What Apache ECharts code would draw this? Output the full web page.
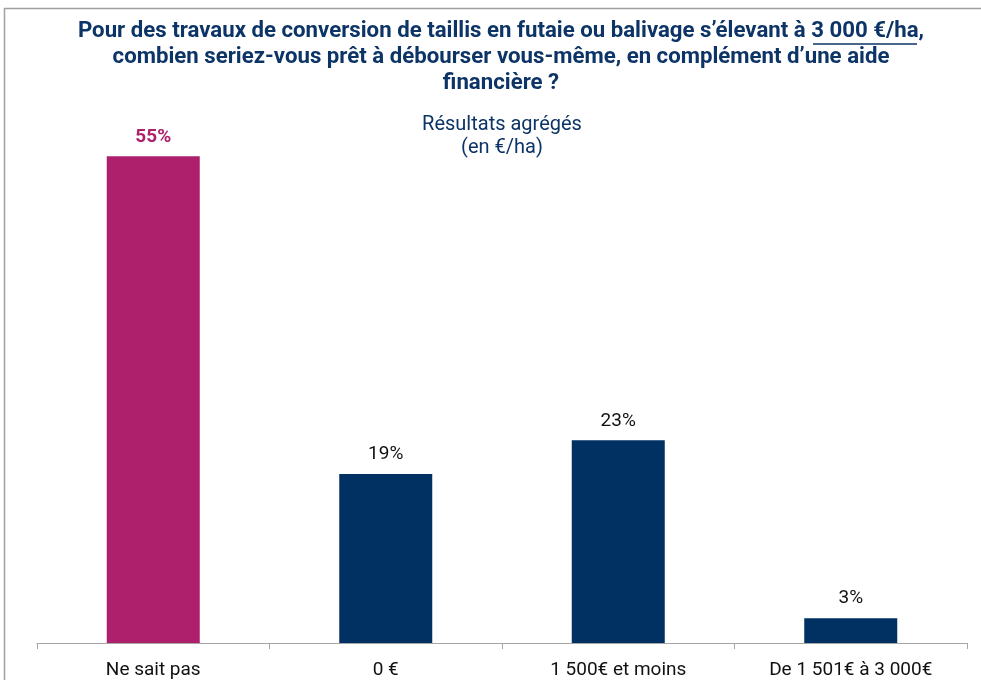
<!DOCTYPE html>
<html>
<head>
<meta charset="utf-8">
<script src="https://cdn.jsdelivr.net/npm/echarts@6/dist/echarts.min.js"></script>
<style>
  html, body { margin: 0; padding: 0; background: #fff; }
  #chart { width: 981px; height: 680px; }
</style>
</head>
<body>
<div id="chart"></div>
<script>
const categories = ['Ne sait pas', '0 €', '1 500€ et moins', 'De 1 501€ à 3 000€']
const values = [55, 19.1, 22.9, 2.8]
const barColors = ['#AE206B', '#003162', '#003162', '#003162']
const titleLines = [
  'Pour des travaux de conversion de taillis en futaie ou balivage s’élevant à 3 000 €/ha,',
  'combien seriez-vous prêt à débourser vous-même, en complément d’une aide',
  'financière ?'
]
const subtitleLines = ['Résultats agrégés', '(en €/ha)']

const navy = '#0D3466'
const chart = echarts.init(document.getElementById('chart'))

const titleGraphics = titleLines.map((t, i) => ({
  type: 'text',
  x: 501,
  y: 31 + i * 26,
  scaleX: 1.01,
  style: {
    text: t,
    fill: navy,
    font: 'bold 22px Roboto',
    textAlign: 'center',
    textVerticalAlign: 'middle'
  }
}))

const subtitleGraphics = subtitleLines.map((t, i) => ({
  type: 'text',
  x: 502,
  y: 125 + i * 23,
  style: {
    text: t,
    fill: navy,
    font: '20px Roboto',
    textAlign: 'center',
    textVerticalAlign: 'middle'
  }
}))

chart.setOption({
  animation: false,
  backgroundColor: '#fff',
  grid: { left: 37, right: 14, top: 112, bottom: 30 },
  xAxis: {
    type: 'category',
    data: categories,
    axisLine: { lineStyle: { color: '#A6A6A6' } },
    axisTick: { show: true, length: 6, lineStyle: { color: '#A6A6A6' } },
    axisLabel: { color: '#111', fontFamily: 'Roboto', fontSize: 19, margin: 18 }
  },
  yAxis: { type: 'value', min: 0, max: 60, show: false, splitLine: { show: false } },
  series: [{
    type: 'bar',
    barWidth: '40%',
    data: values.map((v, i) => ({
      value: v,
      itemStyle: { color: barColors[i] },
      label: i === 0
        ? { color: barColors[0], fontWeight: 'bold' }
        : { color: '#111', fontWeight: 'normal' }
    })),
    label: {
      show: true,
      position: 'top',
      distance: 10,
      fontFamily: 'Roboto',
      fontSize: 19,
      formatter: (p) => Math.round(p.value) + '%'
    }
  }],
  graphic: [
    {
      type: 'rect',
      shape: { x: 4.5, y: 8.5, width: 1100, height: 800 },
      style: { fill: 'none', stroke: '#A0A0A0', lineWidth: 1.5 },
      silent: true
    },
    ...titleGraphics,
    {
      type: 'line',
      shape: { x1: 813, y1: 44, x2: 917, y2: 44 },
      style: { stroke: navy, lineWidth: 1.5 }
    },
    ...subtitleGraphics
  ]
})
</script>
</body>
</html>
